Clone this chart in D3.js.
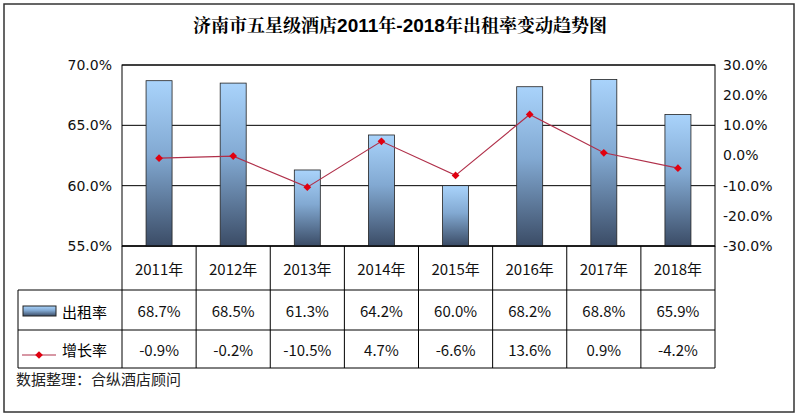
<!DOCTYPE html>
<html><head><meta charset="utf-8">
<script src="https://cdn.jsdelivr.net/npm/d3@7"></script>
<style>body{margin:0;background:#fff}text{font-family:"Noto Sans CJK SC","DejaVu Sans",sans-serif}</style>
</head><body><svg id="c" width="800" height="419"></svg>
<script>
const years = ["2011年","2012年","2013年","2014年","2015年","2016年","2017年","2018年"];
const occupancy = [68.7, 68.5, 61.3, 64.2, 60.0, 68.2, 68.8, 65.9];
const growth = [-0.9, -0.2, -10.5, 4.7, -6.6, 13.6, 0.9, -4.2];
const leftTicks = [55, 60, 65, 70];
const rightTicks = [-30, -20, -10, 0, 10, 20, 30];
const titleParts = [["济南市五星级酒店", 0], ["2011", 1], ["年", 0], ["-2018", 1], ["年出租率变动趋势图", 0]];

const svg = d3.select("#c");
const L = 122, R = 715, T = 65, B = 246;
const x = d3.scaleBand().domain(years).range([L, R]);
const y = d3.scaleLinear().domain([55, 70]).range([B, T]);
const y2 = d3.scaleLinear().domain([-30, 30]).range([B, T]);

const grad = svg.append("defs").append("linearGradient").attr("id", "g").attr("x1", 0).attr("y1", 0).attr("x2", 0).attr("y2", 1);
grad.append("stop").attr("offset", "0%").attr("stop-color", "#a9d3fb");
grad.append("stop").attr("offset", "45%").attr("stop-color", "#82a9d2");
grad.append("stop").attr("offset", "100%").attr("stop-color", "#3b4c66");

svg.append("rect").attr("x", 4).attr("y", 4).attr("width", 790).attr("height", 408).attr("fill", "none").attr("stroke", "#333").attr("stroke-width", 1.5);

const title = svg.append("text").attr("x", 400).attr("y", 32).attr("text-anchor", "middle")
  .style("font-weight", "bold").style("font-size", "18px");
titleParts.forEach(p => title.append("tspan")
  .style("font-family", p[1] ? "'Liberation Sans',Arial,sans-serif" : "'Noto Serif CJK SC','Noto Sans CJK SC',serif")
  .style("font-size", p[1] ? "19px" : "18px").text(p[0]));

svg.append("g").selectAll("line").data(leftTicks).join("line")
  .attr("x1", L).attr("x2", R).attr("y1", d => y(d)).attr("y2", d => y(d)).attr("stroke", "#000");
svg.append("rect").attr("x", L).attr("y", T).attr("width", R - L).attr("height", B - T).attr("fill", "none").attr("stroke", "#000");

const lax = svg.append("g").attr("transform", `translate(${L},0)`)
  .call(d3.axisLeft(y).tickValues(leftTicks).tickFormat(d => d.toFixed(1) + "%").tickSize(0).tickPadding(10));
lax.select(".domain").remove();
lax.selectAll("text").style("font-size", "14px").style("font-family", "'DejaVu Sans',sans-serif").attr("fill", "#111");
const rax = svg.append("g").attr("transform", `translate(${R},0)`)
  .call(d3.axisRight(y2).tickValues(rightTicks).tickFormat(d => d.toFixed(1) + "%").tickSize(0).tickPadding(8));
rax.select(".domain").remove();
rax.selectAll("text").style("font-size", "14px").style("font-family", "'DejaVu Sans',sans-serif").attr("fill", "#111");

const bw = 26;
svg.append("g").selectAll("rect").data(occupancy).join("rect")
  .attr("x", (d, i) => x(years[i]) + x.bandwidth() / 2 - bw / 2).attr("width", bw)
  .attr("y", d => y(d)).attr("height", d => B - y(d))
  .attr("fill", "url(#g)").attr("stroke", "#222").attr("stroke-width", 0.8);

const line = d3.line().x((d, i) => x(years[i]) + x.bandwidth() / 2).y(d => y2(d));
svg.append("path").datum(growth).attr("d", line).attr("fill", "none").attr("stroke", "#b0304a").attr("stroke-width", 1.2);
const diamond = d3.symbol().type(d3.symbolSquare).size(30);
svg.append("g").selectAll("path").data(growth).join("path")
  .attr("transform", (d, i) => `translate(${x(years[i]) + x.bandwidth() / 2},${y2(d)}) rotate(45)`)
  .attr("d", diamond).attr("fill", "#e00010");

const r0 = B, r1 = 290, r2 = 330, r3 = 368, TL = 18;
const tg = svg.append("g").attr("stroke", "#000").attr("stroke-width", 1);
[[L, r0, R, r0], [TL, r1, R, r1], [TL, r2, R, r2], [TL, r3, R, r3], [TL, r1, TL, r3]].forEach(a =>
  tg.append("line").attr("x1", a[0]).attr("y1", a[1]).attr("x2", a[2]).attr("y2", a[3]));
d3.range(years.length + 1).forEach(i => {
  const xx = L + i * x.bandwidth();
  tg.append("line").attr("x1", xx).attr("x2", xx).attr("y1", r0).attr("y2", r3);
});
const cell = (txt, cx, cy) => svg.append("text").attr("x", cx).attr("y", cy).attr("text-anchor", "middle")
  .attr("dominant-baseline", "central").style("font-size", "15px").attr("fill", "#111").text(txt);
years.forEach((yr, i) => {
  const cx = x(yr) + x.bandwidth() / 2;
  cell(yr, cx, (r0 + r1) / 2);
  cell(occupancy[i].toFixed(1) + "%", cx, (r1 + r2) / 2);
  cell(growth[i].toFixed(1) + "%", cx, (r2 + r3) / 2);
});
svg.append("rect").attr("x", 23).attr("y", 306).attr("width", 33).attr("height", 10).attr("fill", "url(#g)").attr("stroke", "#222");
svg.append("text").attr("x", 62).attr("y", 311).attr("dominant-baseline", "central").style("font-size", "15px").text("出租率");
svg.append("line").attr("x1", 22).attr("x2", 56).attr("y1", 355).attr("y2", 355).attr("stroke", "#b0304a").attr("stroke-width", 1.2);
svg.append("path").attr("transform", "translate(39,355) rotate(45)").attr("d", diamond).attr("fill", "#e00010");
svg.append("text").attr("x", 62).attr("y", 349).attr("dominant-baseline", "central").style("font-size", "15px").text("增长率");
svg.append("text").attr("x", 16).attr("y", 378).attr("dominant-baseline", "central").style("font-size", "15px").attr("fill", "#222").text("数据整理：合纵酒店顾问");
</script></body></html>
